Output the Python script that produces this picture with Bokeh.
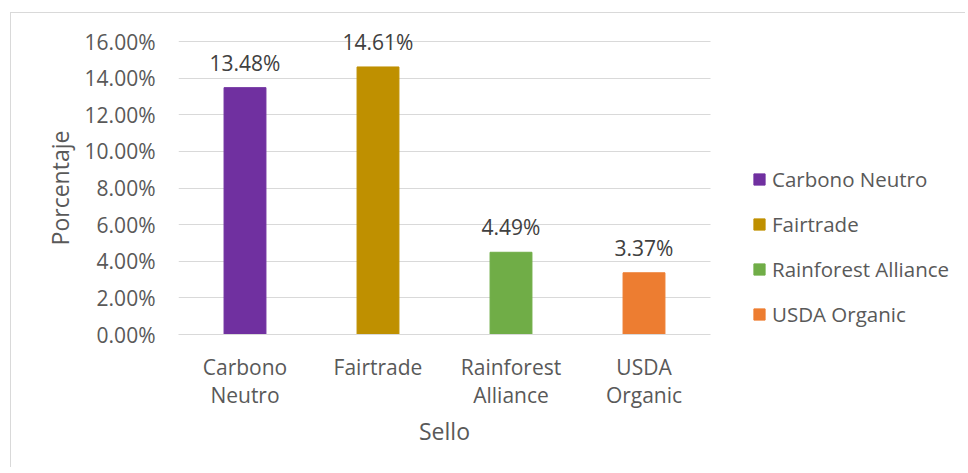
from bokeh.plotting import figure
from bokeh.models import (Range1d, ColumnDataSource, NumeralTickFormatter, FixedTicker,
                          Legend, LegendItem, LabelSet, LinearAxis)
from bokeh.embed import file_html
from bokeh.resources import INLINE
from bokeh.core.properties import value

categories = ["Carbono Neutro", "Fairtrade", "Rainforest Alliance", "USDA Organic"]
tick_line1 = ["Carbono", "Fairtrade", "Rainforest", "USDA"]
tick_line2 = ["Neutro", "", "Alliance", "Organic"]
percentages = [0.1348, 0.1461, 0.0449, 0.0337]
colors = ["#7030A0", "#BF9000", "#70AD47", "#ED7D31"]
y_ticks = [0.0, 0.02, 0.04, 0.06, 0.08, 0.10, 0.12, 0.14, 0.16]
y_max = 0.16
x_title = "Sello"
y_title = "Porcentaje"

FONT = "Open Sans"
FS = "21px"
FS_LEG = "20.5px"
FS_TITLE = "23px"
TXT = "#595959"

n = len(categories)
xpos = [i + 0.5 for i in range(n)]          # category slots on the x scale
src = ColumnDataSource(dict(x=xpos, cat=categories, val=percentages, color=colors,
                            label=[f"{v*100:.2f}%" for v in percentages]))

W, H = 955, 455
LEFT, BOTTOM = 167, 134
FRAME_W_CATS = 532                            # pixel width taken by the category slots
y_top = y_max * (H - BOTTOM) / 293            # headroom above 16% line for data labels
x_end = n * (W - LEFT) / FRAME_W_CATS         # room on the right for the legend

p = figure(x_range=Range1d(0, x_end), y_range=Range1d(0, y_top),
           width=W, height=H, output_backend="svg", toolbar_location=None,
           min_border_left=LEFT, min_border_right=0, min_border_top=0, min_border_bottom=BOTTOM,
           x_axis_location=None)
p.outline_line_color = None
p.background_fill_color = "white"
p.border_fill_color = "white"
p.styles = {"margin-left": "10px", "margin-top": "12px",
            "border-left": "1px solid #d9d9d9", "border-top": "1px solid #d9d9d9"}

bars = p.vbar(x="x", top="val", width=0.315, color="color", source=src)

labels = LabelSet(x="x", y="val", text="label", source=src, y_offset=17,
                  text_align="center", text_baseline="alphabetic",
                  text_font=value(FONT), text_font_size=FS, text_color="#404040")
p.add_layout(labels)

# y axis (tick labels)
y0 = p.yaxis[0]
y0.ticker = FixedTicker(ticks=y_ticks)
y0.formatter = NumeralTickFormatter(format="0.00%")
y0.axis_line_color = None
y0.major_tick_line_color = None
y0.minor_tick_line_color = None
y0.major_label_standoff = 17

# y axis title, centred on the 0..16% span
ay2 = LinearAxis(ticker=FixedTicker(ticks=[y_max / 2]), axis_line_color=None,
                 major_tick_line_color=None, minor_tick_line_color=None,
                 major_label_overrides={y_max / 2: y_title},
                 major_label_orientation="vertical", major_label_standoff=0)
p.add_layout(ay2, "left")

# x axes: two stacked axes give the two-line category labels, a third the title
ax1 = LinearAxis(ticker=FixedTicker(ticks=xpos), bounds=(0, n),
                 axis_line_color="#d9d9d9", major_tick_line_color=None, minor_tick_line_color=None,
                 major_label_overrides=dict(zip(xpos, tick_line1)),
                 major_label_standoff=12)
ax2 = LinearAxis(ticker=FixedTicker(ticks=xpos), bounds=(0, n),
                 axis_line_color=None, major_tick_line_color=None, minor_tick_line_color=None,
                 major_label_overrides=dict(zip(xpos, tick_line2)),
                 major_label_standoff=-9)
ax3 = LinearAxis(ticker=FixedTicker(ticks=[n / 2]), axis_line_color=None,
                 major_tick_line_color=None, minor_tick_line_color=None,
                 major_label_overrides={n / 2: x_title}, major_label_standoff=-3)
p.add_layout(ax1, "below")
p.add_layout(ax2, "below")
p.add_layout(ax3, "below")

for ax in (ax1, ax2, y0):
    ax.major_label_text_font = FONT
    ax.major_label_text_font_size = FS
    ax.major_label_text_color = TXT
for ax in (ax3, ay2):
    ax.major_label_text_font = FONT
    ax.major_label_text_font_size = FS_TITLE
    ax.major_label_text_color = TXT

p.xgrid.grid_line_color = None
p.ygrid.ticker = FixedTicker(ticks=y_ticks)
p.ygrid.grid_line_color = "#d9d9d9"
p.ygrid.cross_bounds = (0, n)

# legend
items = [LegendItem(label=c, renderers=[bars], index=i) for i, c in enumerate(categories)]
legend = Legend(items=items, location=(574, 6), padding=0, margin=0,
                glyph_width=14, glyph_height=14, label_height=29, spacing=16,
                label_standoff=6, label_text_font=FONT, label_text_font_size=FS_LEG,
                label_text_color=TXT, border_line_color=None, background_fill_alpha=0)
p.add_layout(legend)

open("out.html", "w").write(file_html(p, INLINE))
